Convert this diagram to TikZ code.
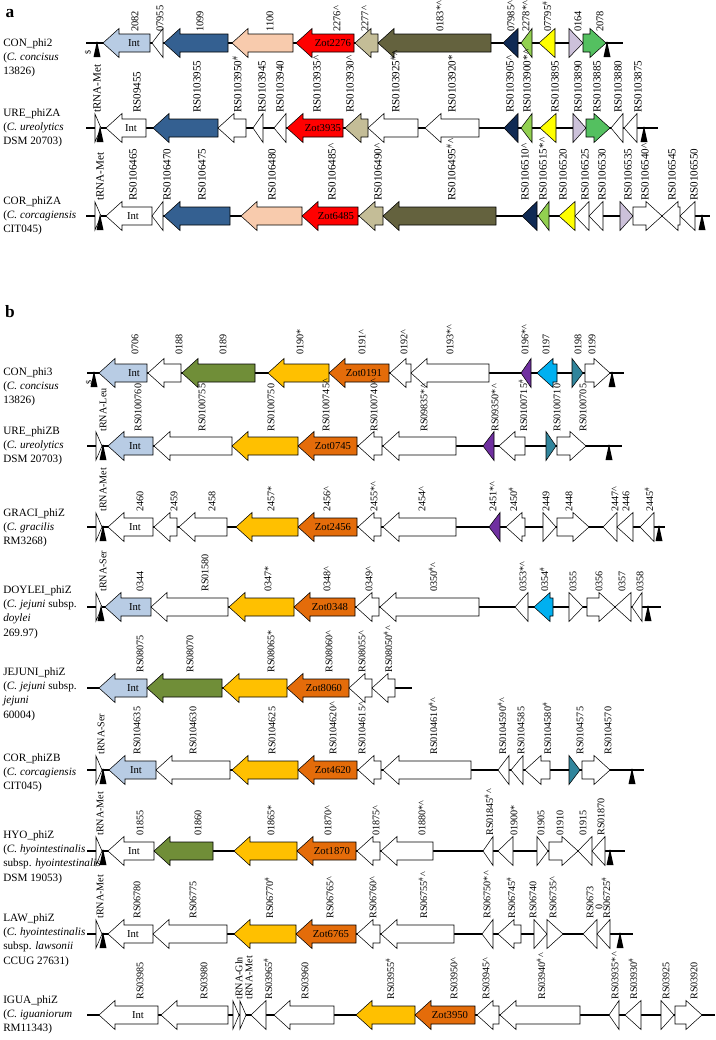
\documentclass[tikz,border=0pt]{standalone}
\usepackage{fontspec}
\setmainfont{Liberation Serif}
\usepackage{tikz}
\definecolor{intblue}{RGB}{184,204,228}
\definecolor{genblue}{RGB}{52,96,145}
\definecolor{peach}{RGB}{248,203,173}
\definecolor{zotred}{RGB}{255,0,0}
\definecolor{khaki}{RGB}{196,189,151}
\definecolor{darkolive}{RGB}{100,98,62}
\definecolor{navyblue}{RGB}{16,42,84}
\definecolor{limegreen}{RGB}{146,208,80}
\definecolor{genyellow}{RGB}{255,255,0}
\definecolor{lavender}{RGB}{204,193,218}
\definecolor{midgreen}{RGB}{84,192,96}
\definecolor{olivegreen}{RGB}{112,142,56}
\definecolor{gold}{RGB}{255,192,0}
\definecolor{zotorange}{RGB}{228,108,10}
\definecolor{genpurple}{RGB}{112,48,160}
\definecolor{gencyan}{RGB}{0,176,240}
\definecolor{genteal}{RGB}{49,133,156}
\tikzstyle{backbone} = [line width=1.5pt]
\tikzstyle{gene} = [draw=black, line width=0.4pt, line join=miter]
\tikzstyle{glabA} = [rotate=90, anchor=west, inner sep=0pt, font=\fontsize{8.3}{9}\selectfont]
\tikzstyle{glabT} = [rotate=90, anchor=west, inner sep=0pt, font=\fontsize{7.8}{8}\selectfont]
\tikzstyle{glabB} = [rotate=90, anchor=west, inner sep=0pt, font=\fontsize{7.6}{8}\selectfont]
\tikzstyle{inlab} = [inner sep=0pt, font=\fontsize{8}{9}\selectfont]
\tikzstyle{rowlab} = [anchor=north west, align=left, inner sep=0pt, font=\fontsize{8.4}{10.8}\selectfont]
\tikzstyle{panel} = [inner sep=0pt, font=\bfseries\fontsize{13}{13}\selectfont]
\newcommand{\hsup}{\textsuperscript{\#}}
\newcommand{\crt}{\textasciicircum}
\newcommand{\astr}{*}
\newcommand{\geneL}[3]{%
  \pgfmathsetmacro{\hbx}{min(#1+16,#2)}%
  \filldraw[gene,fill=#3] (#1,\ry) -- (\hbx,\ry-14.5) -- (\hbx,\ry-9) -- (#2,\ry-9)
    -- (#2,\ry+9) -- (\hbx,\ry+9) -- (\hbx,\ry+14.5) -- cycle;}
\newcommand{\geneR}[3]{%
  \pgfmathsetmacro{\hbx}{max(#2-16,#1)}%
  \filldraw[gene,fill=#3] (#2,\ry) -- (\hbx,\ry-14.5) -- (\hbx,\ry-9) -- (#1,\ry-9)
    -- (#1,\ry+9) -- (\hbx,\ry+9) -- (\hbx,\ry+14.5) -- cycle;}
\newcommand{\trnaB}[1]{\fill (#1,\ry-2) -- (#1+3.5,\ry+14) -- (#1-3.5,\ry+14) -- cycle;}
\newcommand{\trnaM}[1]{\filldraw[gene,fill=white] (#1-3,\ry-14) -- (#1+3,\ry) -- (#1-3,\ry+14) -- cycle;}
\newcommand{\dollar}[1]{\node[inlab, rotate=90, font=\fontsize{6}{6}\selectfont] at (#1,\ry+9) {\$};}

\begin{document}
\begin{tikzpicture}[x=0.75pt, y=-0.75pt]
\useasboundingbox (0,0) rectangle (715,1040);

\node[panel] (pa) at (10,14) {a};
\node[panel] (pb) at (10,312) {b};

% CON_phi2
\def\ry{43}
\node[rowlab] (conphi2) at (3,38) {CON\_phi2\\(\textit{C. concisus}\\13826)};
\draw[backbone] (86,\ry) -- (623,\ry);
\dollar{88} \trnaB{97}
\geneL{103}{150}{intblue} \geneL{152}{163}{white} \geneL{164}{228}{genblue}
\geneL{232}{293}{peach} \geneL{296}{354}{zotred} \geneL{355}{378}{khaki}
\geneL{378}{491}{darkolive} \geneL{503}{518}{navyblue} \geneL{521}{532}{limegreen}
\geneL{539}{555}{genyellow} \geneR{569}{583}{lavender} \geneR{583}{606}{midgreen}
\trnaB{607}
\node[inlab] (int1) at (134,\ry) {Int};
\node[inlab] (zot2276) at (333,\ry) {Zot2276};
\foreach \x/\t in {135/2082, 160/07955, 200/1099, 270/1100, 337/2276\crt, 365/2277\crt,
  440/0183\astr\crt, 511/07985\crt, 526/2278\astr\crt, 547/07795\hsup, 578/0164, 600/2078}
  \node[glabT] (a1-\x) at (\x,32) {\t};

% URE_phiZA
\def\ry{128}
\node[rowlab] (urephiza) at (3,108) {URE\_phiZA\\(\textit{C. ureolytics}\\DSM 20703)};
\draw[backbone] (86,\ry) -- (658,\ry);
\trnaM{98} \trnaB{100}
\geneL{106}{146}{white} \geneL{153}{218}{genblue} \geneL{218}{246}{white}
\geneL{253}{263}{white} \geneL{274}{286}{white} \geneL{287}{343}{zotred}
\geneL{345}{368}{khaki} \geneL{368}{418}{white} \geneL{425}{479}{white}
\geneL{504}{518}{navyblue} \geneL{521}{532}{limegreen} \geneL{540}{556}{genyellow}
\geneR{573}{586}{lavender} \geneR{586}{610}{midgreen} \geneL{611}{623}{white}
\geneL{624}{637}{white}
\trnaB{644}
\node[inlab] (int2) at (131,\ry) {Int};
\node[inlab] (zot3935) at (323,\ry) {Zot3935};
\foreach \x/\t in {97/tRNA-Met, 137/RS09455, 197/RS0103955, 237/RS0103950\hsup, 262/RS0103945,
  280/RS0103940, 317/RS0103935\crt, 350/RS0103930\crt, 395/RS0103925\hsup\crt, 452/RS0103920\astr,
  510/RS0103905\crt, 527/RS0103900\astr\crt, 555/RS0103895, 578/RS0103890, 597/RS0103885,
  618/RS0103880, 638/RS0103875}
  \node[glabA] (a2-\x) at (\x,113) {\t};

% COR_phiZA
\def\ry{216}
\node[rowlab] (corphiza) at (3,196) {COR\_phiZA\\(\textit{C. corcagiensis}\\CIT045)};
\draw[backbone] (86,\ry) -- (710,\ry);
\trnaM{98} \trnaB{100}
\geneL{106}{152}{white} \geneL{152}{163}{white} \geneL{164}{230}{genblue}
\geneL{241}{302}{peach} \geneL{302}{358}{zotred} \geneL{359}{383}{khaki}
\geneL{383}{496}{darkolive} \geneL{522}{537}{navyblue} \geneL{538}{549}{limegreen}
\geneL{559}{575}{genyellow} \geneL{575}{589}{white} \geneL{589}{603}{white}
\geneR{620}{633}{lavender} \geneR{633}{662}{white} \geneL{662}{680}{white}
\geneL{680}{695}{white}
\trnaB{702}
\node[inlab] (int3) at (133,\ry) {Int};
\node[inlab] (zot6485) at (336,\ry) {Zot6485};
\foreach \x/\t in {100/tRNA-Met, 133/RS0106465, 167/RS0106470, 202/RS0106475, 272/RS0106480,
  332/RS0106485\crt, 378/RS0106490\crt, 451/RS0106495\hsup\crt, 525/RS0106510\crt,
  543/RS0106515\astr\crt, 563/RS0106520, 585/RS0106525, 602/RS0106530, 628/RS0106535,
  645/RS0106540\crt, 672/RS0106545, 694/RS0106550}
  \node[glabA] (a3-\x) at (\x,201) {\t};

% CON_phi3
\def\ry{373}
\node[rowlab] (conphi3) at (3,367) {CON\_phi3\\(\textit{C. concisus}\\13826)};
\draw[backbone] (87,\ry) -- (624,\ry);
\dollar{89} \trnaB{94}
\geneL{99}{147}{intblue} \geneL{148}{181}{white} \geneL{182}{255}{olivegreen}
\geneL{268}{329}{gold} \geneL{329}{389}{zotorange} \geneL{390}{411}{white}
\geneL{411}{489}{white} \geneL{521}{531}{genpurple} \geneL{537}{557}{gencyan}
\geneR{572}{583}{genteal} \geneR{585}{610}{white}
\trnaB{612}
\node[inlab] (int4) at (134,\ry) {Int};
\node[inlab] (zot0191) at (364,\ry) {Zot0191};
\foreach \x/\t in {135/0706, 179/0188, 223/0189, 300/0190\astr, 362/0191\crt, 404/0192\crt,
  450/0193\astr\crt, 525/0196\astr\crt, 546/0197, 578/0198, 592/0199}
  \node[glabB] (b1-\x) at (\x,355) {\t};

% URE_phiZB
\def\ry{446}
\node[rowlab] (urephizb) at (3,426) {URE\_phiZB\\(\textit{C. ureolytics}\\DSM 20703)};
\draw[backbone] (87,\ry) -- (622,\ry);
\trnaM{99} \trnaB{103}
\geneL{108}{153}{intblue} \geneL{154}{232}{white} \geneL{232}{298}{gold}
\geneL{298}{357}{zotorange} \geneL{358}{382}{white} \geneL{383}{456}{white}
\geneL{483}{494}{genpurple} \geneL{499}{525}{white} \geneR{546}{556}{genteal}
\geneR{557}{586}{white}
\trnaB{609}
\node[inlab] (int5) at (135,\ry) {Int};
\node[inlab] (zot0745) at (333,\ry) {Zot0745};
\foreach \x/\t in {103/tRNA-Leu, 138/RS0100760, 202/RS0100755, 271/RS0100750,
  326/RS0100745\crt, 374/RS0100740\crt, 424/RS09835\astr\crt, 495/RS09350\astr\crt,
  523/RS0100715\hsup, 557/RS0100710, 583/RS0100705}
  \node[glabB] (b2-\x) at (\x,432) {\t};

% GRACI_phiZ
\def\ry{527}
\node[rowlab] (graciphiz) at (3,508) {GRACI\_phiZ\\(\textit{C. gracilis}\\RM3268)};
\draw[backbone] (87,\ry) -- (665,\ry);
\trnaM{99} \trnaB{103}
\geneL{108}{153}{white} \geneL{154}{177}{white} \geneL{179}{227}{white}
\geneL{236}{298}{gold} \geneL{298}{357}{zotorange} \geneL{358}{381}{white}
\geneL{383}{456}{white} \geneL{489}{500}{genpurple} \geneL{506}{525}{white}
\geneR{543}{556}{white} \geneR{557}{589}{white} \geneL{603}{617}{white}
\geneL{617}{633}{white} \geneL{640}{654}{white}
\trnaB{659}
\node[inlab] (int6) at (135,\ry) {Int};
\node[inlab] (zot2456) at (333,\ry) {Zot2456};
\foreach \x/\t in {103/tRNA-Met, 140/2460, 174/2459, 212/2458, 271/2457\astr, 327/2456\crt,
  374/2455\astr\crt, 422/2454\crt, 493/2451\astr\crt, 513/2450\hsup, 546/2449, 569/2448,
  615/2447\crt, 626/2446, 649/2445\hsup}
  \node[glabB] (b3-\x) at (\x,512) {\t};

% DOYLEI_phiZ
\def\ry{607}
\node[rowlab] (doyleiphiz) at (3,585) {DOYLEI\_phiZ\\(\textit{C. jejuni} subsp.\\\textit{doylei}\\269.97)};
\draw[backbone] (87,\ry) -- (661,\ry);
\trnaM{99} \trnaB{101}
\geneL{105}{151}{intblue} \geneL{151}{228}{white} \geneL{229}{294}{gold}
\geneL{294}{355}{zotorange} \geneL{356}{379}{white} \geneL{380}{479}{white}
\geneL{515}{528}{white} \geneL{534}{553}{gencyan} \geneR{569}{583}{white}
\geneR{587}{615}{white} \geneL{615}{631}{white} \geneL{632}{642}{white}
\trnaB{648}
\node[inlab] (int7) at (135,\ry) {Int};
\node[inlab] (zot0348) at (330,\ry) {Zot0348};
\foreach \x/\t in {103/tRNA-Ser, 140/0344, 205/RS01580, 268/0347\astr, 327/0348\crt,
  369/0349\crt, 433/0350\hsup\crt, 523/0353\astr\crt, 544/0354\hsup, 573/0355, 599/0356,
  622/0357, 640/0358}
  \node[glabB] (b4-\x) at (\x,592) {\t};

% JEJUNI_phiZ
\def\ry{688}
\node[rowlab] (jejuniphiz) at (3,667) {JEJUNI\_phiZ\\(\textit{C. jejuni} subsp.\\\textit{jejuni}\\60004)};
\draw[backbone] (87,\ry) -- (412,\ry);
\geneL{99}{147}{intblue} \geneL{147}{222}{olivegreen} \geneL{223}{287}{gold}
\geneL{287}{349}{zotorange} \geneL{349}{372}{white} \geneL{372}{395}{white}
\node[inlab] (int8) at (133,\ry) {Int};
\node[inlab] (zot8060) at (324,\ry) {Zot8060};
\foreach \x/\t in {140/RS08075, 190/RS08070, 271/RS08065\astr, 329/RS08060\crt,
  362/RS08055\crt, 388/RS08050\hsup\crt}
  \node[glabB] (b5-\x) at (\x,673) {\t};

% COR_phiZB
\def\ry{770}
\node[rowlab] (corphizb) at (3,753) {COR\_phiZB\\(\textit{C. corcagiensis}\\CIT045)};
\draw[backbone] (87,\ry) -- (644,\ry);
\trnaM{99} \trnaB{103}
\geneL{109}{156}{intblue} \geneL{156}{230}{white} \geneL{232}{298}{gold}
\geneL{298}{357}{zotorange} \geneL{358}{381}{white} \geneL{383}{471}{white}
\geneL{498}{509}{white} \geneL{511}{523}{white} \geneL{525}{550}{white}
\geneR{569}{580}{genteal} \geneR{582}{610}{white}
\trnaB{632}
\node[inlab] (int9) at (136,\ry) {Int};
\node[inlab] (zot4620) at (333,\ry) {Zot4620};
\foreach \x/\t in {101/tRNA-Ser, 137/RS0104635, 193/RS0104630, 272/RS0104625,
  333/RS0104620\crt, 362/RS0104615\crt, 433/RS0104610\hsup\crt, 502/RS0104590\hsup\crt,
  521/RS0104585, 547/RS0104580\hsup, 580/RS0104575, 608/RS0104570}
  \node[glabB] (b6-\x) at (\x,755) {\t};

% HYO_phiZ
\def\ry{851}
\node[rowlab] (hyophiz) at (3,830) {HYO\_phiZ\\(\textit{C. hyointestinalis}\\subsp. \textit{hyointestinalis}\\DSM 19053)};
\draw[backbone] (87,\ry) -- (625,\ry);
\trnaM{99} \trnaB{103}
\geneL{108}{154}{white} \geneL{154}{213}{olivegreen} \geneL{234}{297}{gold}
\geneL{297}{356}{zotorange} \geneL{357}{380}{white} \geneL{381}{433}{white}
\geneL{483}{493}{white} \geneL{498}{513}{white} \geneR{537}{548}{white}
\geneR{549}{578}{white} \geneL{578}{592}{white} \geneL{592}{605}{white}
\trnaB{610}
\node[inlab] (int10) at (134,\ry) {Int};
\node[inlab] (zot1870) at (332,\ry) {Zot1870};
\foreach \x/\t in {100/tRNA-Met, 140/01855, 198/01860, 271/01865\astr, 328/01870\crt,
  376/01875\crt, 422/01880\astr\crt, 489/RS01845\hsup\crt, 514/01900\astr, 541/01905, 560/01910,
  583/01915, 601/RS01870}
  \node[glabB] (b7-\x) at (\x,836) {\t};

% LAW_phiZ
\def\ry{934}
\node[rowlab] (lawphiz) at (3,913) {LAW\_phiZ\\(\textit{C. hyointestinalis}\\subsp. \textit{lawsonii}\\CCUG 27631)};
\draw[backbone] (87,\ry) -- (633,\ry);
\trnaM{99} \trnaB{103}
\geneL{108}{153}{white} \geneL{153}{227}{white} \geneL{234}{296}{gold}
\geneL{296}{356}{zotorange} \geneL{357}{380}{white} \geneL{381}{454}{white}
\geneL{482}{493}{white} \geneL{498}{521}{white} \geneR{534}{547}{white}
\geneR{547}{563}{white} \geneL{583}{597}{white} \geneL{597}{610}{white}
\trnaB{620}
\node[inlab] (int11) at (133,\ry) {Int};
\node[inlab] (zot6765) at (331,\ry) {Zot6765};
\foreach \x/\t in {100/tRNA-Met, 137/RS06780, 193/RS06775, 269/RS06770\hsup,
  330/RS06765\crt, 373/RS06760\crt, 423/RS06755\hsup\crt, 487/RS06750\astr\crt,
  511/RS06745\hsup, 533/RS06740, 553/RS06735\crt, 590/RS0673, 606/RS06725\hsup}
  \node[glabB] (b8-\x) at (\x,919) {\t};
\node[glabB] (b8-zero) at (599,910) {0};

% IGUA_phiZ
\def\ry{1015}
\node[rowlab] (iguaphiz) at (3,995) {IGUA\_phiZ\\(\textit{C. iguaniorum}\\RM11343)};
\draw[backbone] (87,\ry) -- (715,\ry);
\geneL{99}{158}{white} \geneL{161}{228}{white}
\trnaM{236} \trnaM{243}
\geneL{251}{266}{white} \geneL{274}{334}{white} \geneL{356}{415}{gold}
\geneL{415}{475}{zotorange} \geneL{477}{499}{white} \geneL{500}{580}{white}
\geneL{609}{619}{white} \geneL{625}{641}{white} \geneR{661}{674}{white}
\geneR{675}{702}{white}
\node[inlab] (int12) at (138,\ry) {Int};
\node[inlab] (zot3950) at (450,\ry) {Zot3950};
\foreach \x/\t in {140/RS03985, 204/RS03980, 239/tRNA-Gln, 249/tRNA-Met, 268/RS03965\hsup,
  305/RS03960, 390/RS03955\hsup, 454/RS03950\crt, 486/RS03945\crt, 541/RS03940\hsup\crt,
  615/RS03935\astr\crt, 633/RS03930\hsup, 666/RS03925, 694/RS03920}
  \node[glabB] (b9-\x) at (\x,1000) {\t};
\end{tikzpicture}
\end{document}
